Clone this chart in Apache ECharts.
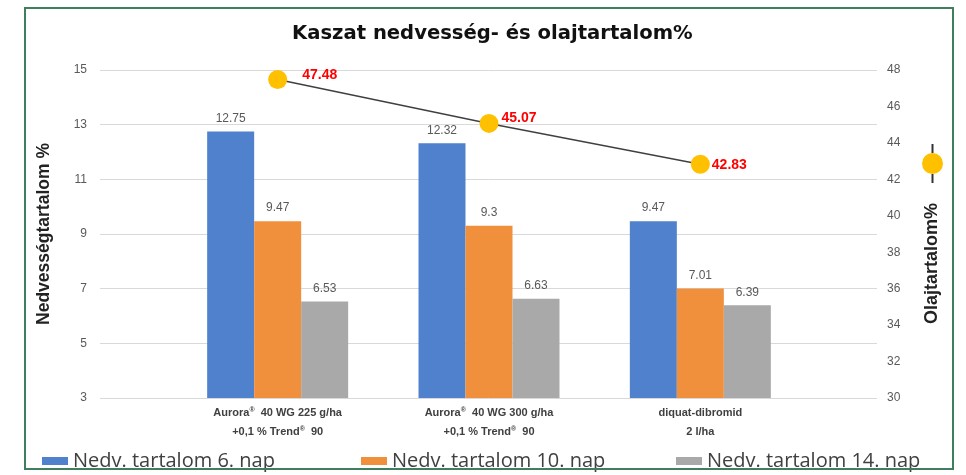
<!DOCTYPE html>
<html>
<head>
<meta charset="utf-8">
<script src="https://cdn.jsdelivr.net/npm/echarts@6/dist/echarts.min.js"></script>
<style>html,body{margin:0;padding:0;background:#fff;}#c{width:966px;height:475px;}</style>
</head>
<body>
<div id="c"></div>
<script>
const categories = [
  'Aurora{sup|®}  40 WG 225 g/ha\n+0,1 % Trend{sup|®}  90',
  'Aurora{sup|®}  40 WG 300 g/ha\n+0,1 % Trend{sup|®}  90',
  'diquat-dibromid\n2 l/ha'
];
const seriesNames = ['Nedv. tartalom 6. nap', 'Nedv. tartalom 10. nap', 'Nedv. tartalom 14. nap'];
const moisture6 = [12.75, 12.32, 9.47];
const moisture10 = [9.47, 9.3, 7.01];
const moisture14 = [6.53, 6.63, 6.39];
const oil = [47.48, 45.07, 42.83];
const leftAxisTicks = [3, 5, 7, 9, 11, 13, 15];
const rightAxisTicks = [30, 32, 34, 36, 38, 40, 42, 44, 46, 48];

const barColors = ['#4f81cd', '#f0903c', '#a9a9a9'];
const chart = echarts.init(document.getElementById('c'));

const lMin = leftAxisTicks[0], lMax = leftAxisTicks[leftAxisTicks.length - 1];
const lInt = leftAxisTicks[1] - leftAxisTicks[0];
const rMin = rightAxisTicks[0], rMax = rightAxisTicks[rightAxisTicks.length - 1];
const rInt = rightAxisTicks[1] - rightAxisTicks[0];

const axisFont = 'Liberation Sans';
const gridTop = 70, gridBottom = 77;

function barSeries(i, values) {
  return {
    name: seriesNames[i], type: 'bar', xAxisIndex: 1, yAxisIndex: 2,
    data: values, barWidth: 47, barGap: '0%',
    itemStyle: { color: barColors[i] },
    label: { show: true, position: 'top', distance: 7, color: '#595959', fontSize: 12, fontFamily: axisFont }
  };
}

const lineLabelTweaks = [{ distance: 15, offset: [0, -4] }, { distance: 3, offset: [0, -5] }, { distance: 2, offset: [0, 1] }];
const legendLefts = [37, 356, 671];

chart.setOption({
  animation: false,
  title: {
    text: 'Kaszat nedvesség- és olajtartalom%', left: 287, top: 19,
    textStyle: { fontFamily: 'DejaVu Sans', fontWeight: 'bold', fontSize: 19.6, color: '#111' }
  },
  legend: seriesNames.map((n, i) => ({
    data: [n], left: legendLefts[i], top: 446, itemWidth: 26, itemHeight: 8,
    icon: 'rect', padding: 5,
    textStyle: { fontFamily: 'Open Sans', fontSize: 20, color: '#404040' }
  })),
  grid: [
    { left: 100, right: 89, top: gridTop, bottom: gridBottom },
    { left: 172, right: 160, top: gridTop, bottom: gridBottom }
  ],
  xAxis: [
    { type: 'category', gridIndex: 0, data: categories, show: false },
    {
      type: 'category', gridIndex: 1, data: categories,
      axisLine: { show: false }, axisTick: { show: false },
      axisLabel: {
        interval: 0, margin: 5, color: '#404040', fontSize: 11, fontWeight: 'bold', fontFamily: axisFont, lineHeight: 19,
        rich: { sup: { fontSize: 7, fontWeight: 'bold', color: '#404040', padding: [0, 0, 5, 0] } }
      }
    }
  ],
  yAxis: [
    {
      type: 'value', gridIndex: 0, position: 'left', min: lMin, max: lMax, interval: lInt,
      axisLine: { show: false }, axisTick: { show: false },
      axisLabel: { color: '#595959', fontSize: 12, fontFamily: axisFont, margin: 13 },
      splitLine: { lineStyle: { color: '#d9d9d9', width: 1 } },
      name: 'Nedvességtartalom %', nameLocation: 'middle', nameGap: 47,
      nameTextStyle: { fontFamily: axisFont, fontWeight: 'bold', fontSize: 17.5, color: '#222' }
    },
    {
      type: 'value', gridIndex: 0, position: 'right', min: rMin, max: rMax, interval: rInt,
      axisLine: { show: false }, axisTick: { show: false }, splitLine: { show: false },
      axisLabel: { color: '#595959', fontSize: 12, fontFamily: axisFont, margin: 10 },
      name: 'Olajtartalom%    {ln|}{dot|}{ln|}', nameLocation: 'middle', nameGap: 45, nameRotate: 90,
      nameTextStyle: {
        fontFamily: axisFont, fontWeight: 'bold', fontSize: 18, color: '#222',
        rich: {
          ln: { width: 9, height: 2, backgroundColor: '#333', verticalAlign: 'middle' },
          dot: { width: 21, height: 21, borderRadius: 10.5, backgroundColor: '#ffc000', verticalAlign: 'middle' }
        }
      }
    },
    { type: 'value', gridIndex: 1, min: lMin, max: lMax, interval: lInt, show: false, splitLine: { show: false } },
    { type: 'value', gridIndex: 1, min: rMin, max: rMax, interval: rInt, show: false, splitLine: { show: false } }
  ],
  series: [
    barSeries(0, moisture6),
    barSeries(1, moisture10),
    barSeries(2, moisture14),
    {
      name: 'Olajtartalom%', type: 'line', xAxisIndex: 1, yAxisIndex: 3,
      data: oil.map((v, i) => ({ value: v, label: lineLabelTweaks[i] })),
      symbol: 'circle', symbolSize: 19, z: 5,
      lineStyle: { color: '#404040', width: 1.5 },
      itemStyle: { color: '#ffc000' },
      label: { show: true, position: 'right', color: '#ff0000', fontWeight: 'bold', fontSize: 14, fontFamily: axisFont }
    }
  ],
  graphic: [
    { type: 'rect', z: 100, shape: { x: 25, y: 8, width: 928, height: 461 },
      style: { fill: 'none', stroke: '#3f7f5f', lineWidth: 2 } }
  ]
});
</script>
</body>
</html>
